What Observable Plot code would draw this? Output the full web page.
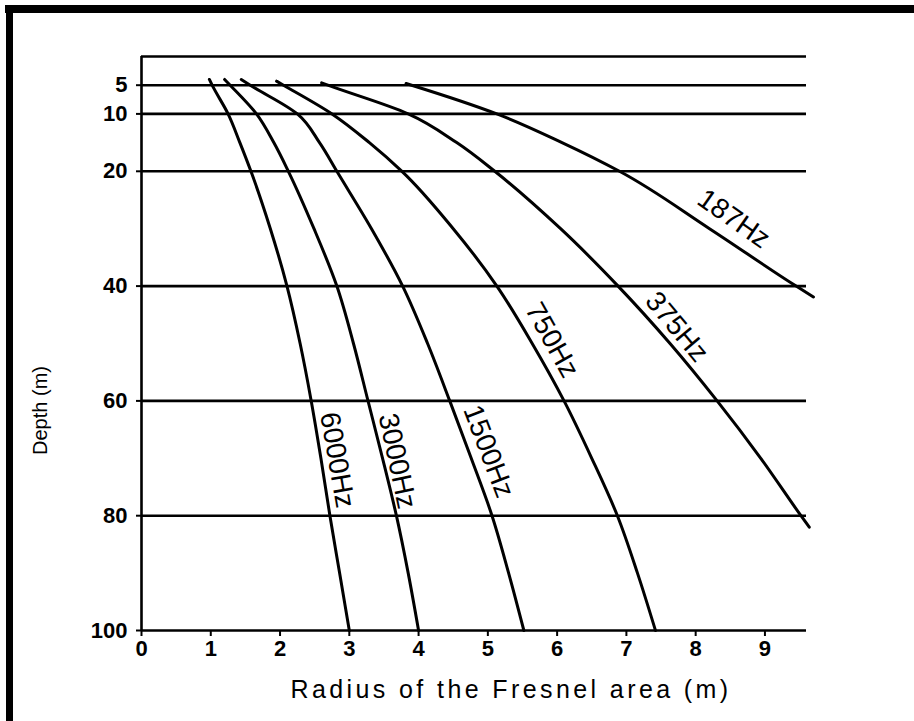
<!DOCTYPE html>
<html><head><meta charset="utf-8">
<script src="https://cdn.jsdelivr.net/npm/d3@7"></script>
<script src="https://cdn.jsdelivr.net/npm/@observablehq/plot@0.6"></script>
<style>
html,body{margin:0;padding:0;background:#fff;}
#frame{position:relative;width:914px;height:721px;overflow:hidden;background:#fff;}
#frame .bar-top{position:absolute;left:5px;top:5px;width:909px;height:8px;background:#000;}
#frame .bar-left{position:absolute;left:6px;top:5px;width:7px;height:716px;background:#000;}
#frame svg{position:absolute;left:0;top:0;}
</style></head><body>
<div id="frame"><div class="bar-top"></div><div class="bar-left"></div></div>
<script>
// ---- data ----
const frequencies = ["6000Hz", "3000Hz", "1500Hz", "750Hz", "375Hz", "187Hz"];

const depth6000  = [4, 5, 10, 15, 20, 30, 40, 50, 60, 70, 80, 90, 100];
const radius6000 = [0.98, 1.02, 1.25, 1.42, 1.58, 1.86, 2.10, 2.29, 2.45, 2.59, 2.72, 2.86, 3.00];

const depth3000  = [4, 5, 10, 15, 20, 30, 40, 50, 60, 70, 80, 90, 100];
const radius3000 = [1.20, 1.28, 1.66, 1.91, 2.12, 2.49, 2.82, 3.06, 3.27, 3.48, 3.68, 3.85, 4.00];

const depth1500  = [4, 5, 10, 15, 20, 30, 40, 50, 60, 70, 80, 90, 100];
const radius1500 = [1.44, 1.57, 2.25, 2.57, 2.82, 3.32, 3.77, 4.13, 4.45, 4.76, 5.06, 5.30, 5.52];

const depth750   = [4.3, 5, 10, 15, 20, 30, 40, 50, 60, 70, 80, 90, 100];
const radius750  = [1.95, 2.05, 2.75, 3.29, 3.76, 4.50, 5.13, 5.64, 6.10, 6.50, 6.87, 7.16, 7.42];

const depth375   = [4.6, 5, 10, 15, 20, 30, 40, 50, 60, 70, 80, 82];
const radius375  = [2.60, 2.69, 3.85, 4.55, 5.10, 6.05, 6.88, 7.63, 8.31, 8.94, 9.52, 9.64];

const depth187   = [4.7, 5, 10, 15, 20, 30, 40, 41.9];
const radius187  = [3.82, 3.90, 5.13, 6.07, 6.90, 8.20, 9.45, 9.70];

const depthTicks  = [5, 10, 20, 40, 60, 80, 100];
const gridDepths  = [0, 5, 10, 20, 40, 60, 80, 100];
const radiusTicks = [0, 1, 2, 3, 4, 5, 6, 7, 8, 9];

const xTitle = "Radius of the Fresnel area (m)";
const yTitle = "Depth (m)";

// ---- build table ----
const seriesList = [
  [depth6000, radius6000], [depth3000, radius3000], [depth1500, radius1500],
  [depth750, radius750], [depth375, radius375], [depth187, radius187]
];
const rows = [];
seriesList.forEach(([ds, rs], i) => ds.forEach((d, j) => rows.push({freq: frequencies[i], depth: d, radius: rs[j]})));

function radiusAt(i, d) {
  const [ds, rs] = seriesList[i];
  for (let j = 1; j < ds.length; j++) {
    if (d <= ds[j]) { const t = (d - ds[j-1]) / (ds[j] - ds[j-1]); return rs[j-1] + t * (rs[j] - rs[j-1]); }
  }
  return rs[rs.length - 1];
}

// label placement: depth on curve, rotation, pixel offset
const labelSpec = [
  {i: 0, depth: 70.3, rotate: 80, dx: 16, dy: 0},
  {i: 1, depth: 70.5, rotate: 78, dx: 14, dy: 0},
  {i: 2, depth: 68.8, rotate: 69, dx: 20, dy: 0},
  {i: 3, depth: 49.4, rotate: 61, dx: 22, dy: 0},
  {i: 4, depth: 47.1, rotate: 50, dx: 22, dy: 0},
  {i: 5, depth: 32.8, rotate: 35, dx: 0, dy: -26}
];
const labelMarks = labelSpec.map(s => Plot.text(
  [{radius: radiusAt(s.i, s.depth), depth: s.depth, label: frequencies[s.i]}],
  {x: "radius", y: "depth", text: "label", rotate: s.rotate, dx: s.dx, dy: s.dy,
   textAnchor: "middle", lineAnchor: "middle", fontSize: 28, fontWeight: "normal", fill: "#000"}
));

const chart = Plot.plot({
  width: 914, height: 721,
  marginLeft: 141, marginRight: 108, marginTop: 56, marginBottom: 91,
  x: {domain: [0, 9.6]},
  y: {domain: [0, 100], reverse: true},
  style: {fontFamily: "'Liberation Sans', Arial, Helvetica, sans-serif", fontSize: "22px", color: "#000", background: "transparent"},
  marks: [
    Plot.ruleY(gridDepths, {x1: 0, x2: 9.6, stroke: "#000", strokeWidth: 2.6}),
    Plot.ruleX([0], {y1: 0, y2: 100, stroke: "#000", strokeWidth: 2.6}),
    Plot.axisY({ticks: depthTicks, tickSize: 5, tickPadding: 9, strokeWidth: 2, fontSize: 22, fontWeight: "bold", label: null}),
    Plot.axisX({ticks: radiusTicks, tickSize: 6, tickPadding: 4, strokeWidth: 2, fontSize: 22, fontWeight: "bold", label: null}),
    Plot.line(rows, {x: "radius", y: "depth", z: "freq", curve: "monotone-y", stroke: "#000", strokeWidth: 3}),
    ...labelMarks,
    Plot.text([xTitle], {frameAnchor: "bottom", textAnchor: "middle", lineAnchor: "middle", dx: 37, dy: 59,
      fontSize: 25, fontWeight: "normal", fill: "#000"}),
    Plot.text([yTitle], {frameAnchor: "left", textAnchor: "middle", lineAnchor: "middle", rotate: -90, dx: -101, dy: 67,
      fontSize: 20, fontWeight: "normal", fill: "#000"})
  ]
});
d3.select(chart).selectAll("text")
  .filter(function() { return this.textContent === xTitle; })
  .attr("letter-spacing", "3.4px");
document.getElementById("frame").appendChild(chart);
</script>
</body></html>
